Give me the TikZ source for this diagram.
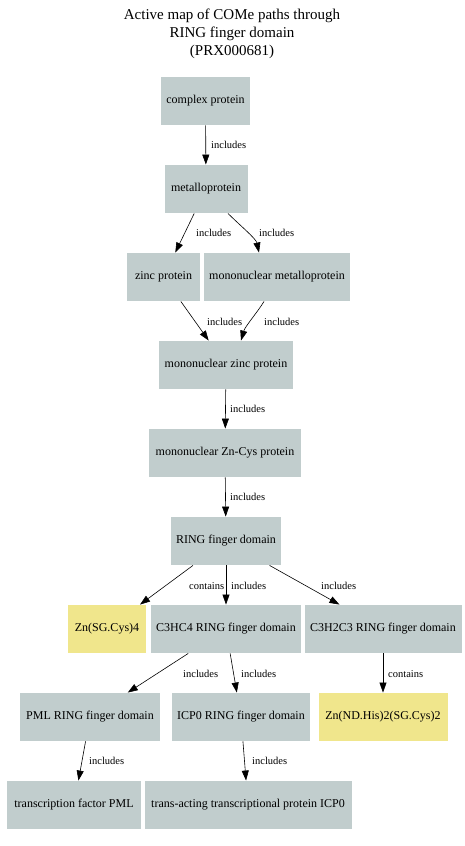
\documentclass[tikz,border=0pt]{standalone}
\usepackage{fontspec}
\setmainfont{Liberation Serif}
\usetikzlibrary{arrows.meta}
\definecolor{boxgray}{RGB}{193,205,205}
\definecolor{boxkhaki}{RGB}{240,230,140}
\tikzset{
  box/.style={fill=boxgray, draw=none, minimum height=48.5pt, inner sep=0pt, font=\fontsize{12}{14}\selectfont},
  chem/.style={box, fill=boxkhaki},
  arr/.style={draw=black, line width=0.6pt, -{Triangle[length=10pt,width=7pt]}},
  elabel/.style={anchor=west, inner sep=0pt, font=\fontsize{10.5}{12}\selectfont},
}
\begin{document}
\begin{tikzpicture}[x=1pt,y=-1pt]
\useasboundingbox (0,0) rectangle (465,846);
\node[align=center, font=\fontsize{15}{18}\selectfont] (title) at (232,34) {Active map of COMe paths through\\RING finger domain\\(PRX000681)};

\node[box, minimum width=89pt] (cp) at (205.5,101) {complex protein};
\node[box, minimum width=83pt] (mp) at (206,189) {metalloprotein};
\node[box, minimum width=73pt] (zp) at (163.5,277) {zinc protein};
\node[box, minimum width=146pt] (mmp) at (277,277) {mononuclear metalloprotein};
\node[box, minimum width=134pt] (mzp) at (226,365) {mononuclear zinc protein};
\node[box, minimum width=152pt] (zcp) at (225,453) {mononuclear Zn-Cys protein};
\node[box, minimum width=110pt] (ring) at (226,541) {RING finger domain};
\node[chem, minimum width=78pt] (zn4) at (107,629) {Zn(SG.Cys)4};
\node[box, minimum width=150pt] (c3hc4) at (226,629) {C3HC4 RING finger domain};
\node[box, minimum width=157pt] (c3h2c3) at (383,629) {C3H2C3 RING finger domain};
\node[box, minimum width=140pt] (pml) at (90,717) {PML RING finger domain};
\node[box, minimum width=138pt] (icp) at (241,717) {ICP0 RING finger domain};
\node[chem, minimum width=129pt] (znhis) at (383,717) {Zn(ND.His)2(SG.Cys)2};
\node[box, minimum width=134pt] (tfpml) at (74,805) {transcription factor PML};
\node[box, minimum width=207pt] (trans) at (248,805) {trans-acting transcriptional protein ICP0};

\draw[arr] (cp) -- (mp);
\draw[arr] (mp) -- (zp);
\draw[arr] ([xshift=22pt]mp.south) .. controls +(12,12) and +(-3,-14) .. ([xshift=-18pt]mmp.north);
\draw[arr] (zp) -- (mzp);
\draw[arr] ([xshift=-13pt]mmp.south) .. controls +(-6,10) and +(4,-14) .. ([xshift=15pt]mzp.north);
\draw[arr] (mzp) -- (zcp);
\draw[arr] (zcp) -- (ring);
\draw[arr] (ring) -- (zn4);
\draw[arr] (ring) -- (c3hc4);
\draw[arr] (ring) -- (c3h2c3);
\draw[arr] (c3hc4) -- (pml);
\draw[arr] (c3hc4) -- (icp);
\draw[arr] (c3h2c3) -- (znhis);
\draw[arr] (pml) -- (tfpml);
\draw[arr] (icp) -- (trans);

\node[elabel] (l1) at (211,145) {includes};
\node[elabel] (l2) at (196,233) {includes};
\node[elabel] (l3) at (259,233) {includes};
\node[elabel] (l4) at (207,322) {includes};
\node[elabel] (l5) at (264,322) {includes};
\node[elabel] (l6) at (230,409) {includes};
\node[elabel] (l7) at (230,497) {includes};
\node[elabel] (l8) at (189,586) {contains};
\node[elabel] (l9) at (231,586) {includes};
\node[elabel] (l10) at (321,586) {includes};
\node[elabel] (l11) at (183,674) {includes};
\node[elabel] (l12) at (241,674) {includes};
\node[elabel] (l13) at (388,674) {contains};
\node[elabel] (l14) at (89,761) {includes};
\node[elabel] (l15) at (252,761) {includes};
\end{tikzpicture}
\end{document}
